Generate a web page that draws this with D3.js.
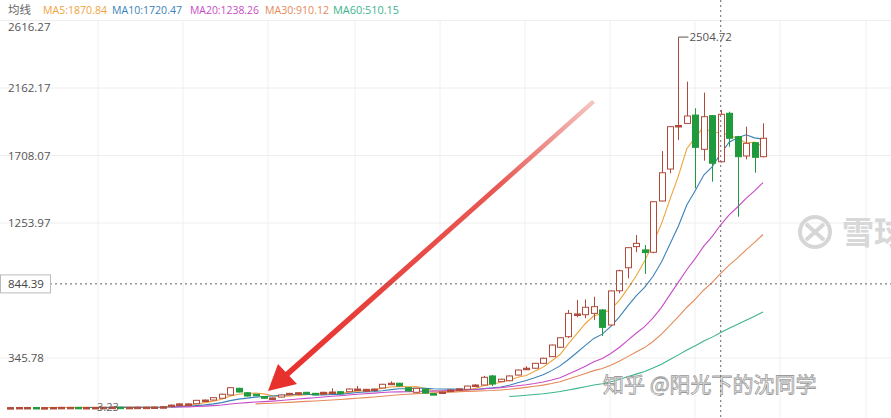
<!DOCTYPE html>
<html><head><meta charset="utf-8">
<script src="https://cdn.jsdelivr.net/npm/d3@7"></script>
<style>body{margin:0;background:#fff}svg{display:block;font-family:"Open Sans","Noto Sans",sans-serif}</style>
</head><body><svg id="c" width="891" height="418"></svg>
<script>
const opens = [12,12,13,13,12,12,13,14,14,13,13,13,14,15,14,14,15,15,16,22,
 29,30,38,62,63,75,97,142,112,102,86,68,83,99,102,115,108,102,117,119,
 119,137,122,137,144,176,176,146,115,137,106,117,128,135,135,164,164,225,187,193,
 231,277,277,310,355,418,489,642,637,646,669,568,798,953,1095,1073,1057,1402,1617,1905,
 1924,1980,1750,1976,1666,1992,1835,1705,1794,1700];
const closes = [12,13,13,12,12,13,14,14,13,13,13,14,15,14,14,15,15,16,18,29,
 37,37,61,63,79,102,146,117,90,95,75,77,97,108,112,104,99,115,117,108,
 137,137,135,137,169,176,158,124,142,110,100,117,131,138,157,164,216,171,203,225,
 265,277,310,344,433,482,646,642,687,691,552,797,933,1088,1117,1055,1397,1592,1902,1910,
 1974,1763,1969,1656,1985,1824,1700,1790,1696,1824];
const highs = [15,15,16,15,15,16,17,17,16,16,16,17,18,17,17,18,18,19,20,32,
 40,40,64,66,82,106,150,146,115,100,89,80,100,111,115,118,111,118,142,121,
 140,158,138,140,172,189,179,149,145,140,108,120,134,141,160,170,226,232,206,228,
 268,290,313,347,436,485,669,736,740,758,675,800,940,1090,1173,1106,1400,1738,1905,2504.72,
 2205,2026,2131,1980,2014,2003,1840,1902,1798,1925];
const lows = [9,9,10,9,9,10,11,11,10,10,10,11,12,11,11,12,12,13,14,20,
 26,27,35,59,60,72,94,114,87,92,72,65,80,96,99,101,96,99,113,105,
 116,133,119,133,141,172,155,121,112,107,97,113,125,132,132,160,161,157,184,190,
 228,270,274,307,352,415,480,620,613,601,494,560,781,882,1057,911,1050,1400,1588,1812,
 1920,1487,1673,1532,1660,1767,1296,1682,1592,1695];
const yTicks = [2616.27, 2162.17, 1708.07, 1253.97, 345.78, -108.32];
const maPeriods = [5, 10, 20, 30, 60];
const maColors = ["#eea43c", "#3c82b8", "#c84bc8", "#e58a5a", "#3bb58a"];
const legendTexts = ["MA5:1870.84", "MA10:1720.47", "MA20:1238.26", "MA30:910.12", "MA60:510.15"];
const crossValue = 844.39, crossIndex = 84, highIndex = 79, lowLabel = "3.23";

const svg = d3.select("#c");
const x = d3.scaleLinear().domain([0, opens.length - 1]).range([10.3, 763]);
const y = d3.scaleLinear().domain([-108.32, 2616.27]).range([425.5, 20.5]);

const vgrid = [98,183,268,355,440,525,610,695,780,866];
svg.append("g").selectAll("line").data(vgrid).join("line")
  .attr("x1", d=>d).attr("x2", d=>d).attr("y1", 20).attr("y2", 418)
  .attr("stroke", "#f0f0f0");
svg.append("g").selectAll("line").data(yTicks).join("line")
  .attr("x1", 0).attr("x2", 891).attr("y1", d=>y(d)).attr("y2", d=>y(d))
  .attr("stroke", "#eeeeee");
svg.append("g").selectAll("text").data(yTicks).join("text")
  .attr("x", 8).attr("y", d=>Math.max(31, y(d)+4)).attr("font-size", 11.5).attr("fill", "#555")
  .text(d=>d.toFixed(2));

maPeriods.forEach((p, k) => {
  const pts = [];
  for (let i = p - 1; i < closes.length; i++) {
    pts.push([i, d3.mean(closes.slice(i - p + 1, i + 1))]);
  }
  svg.append("path").attr("d", d3.line().x(d=>x(d[0])).y(d=>y(d[1]))(pts))
    .attr("fill", "none").attr("stroke", maColors[k]).attr("stroke-width", 1.1);
});

const up = "#b04a3a", dn = "#1f9a3c";
const idx = d3.range(opens.length);
const g = svg.append("g");
idx.forEach(i => {
  const o = opens[i], c = closes[i];
  const col = c >= o ? up : dn;
  const cx = Math.round(x(i)) + 0.5;
  const top = y(Math.max(o, c)), bot = y(Math.min(o, c));
  g.append("line").attr("x1", cx).attr("x2", cx).attr("y1", y(highs[i])).attr("y2", y(lows[i]))
    .attr("stroke", col).attr("stroke-width", 1);
  const h = Math.max(1.5, bot - top);
  g.append("rect").attr("x", cx - 3).attr("y", top).attr("width", 6).attr("height", h)
    .attr("fill", (c >= o && h > 2) ? "#fff" : col).attr("stroke", col).attr("stroke-width", 1);
});

const hx = x(highIndex), hy = y(highs[highIndex]);
svg.append("path").attr("d", `M${hx},${hy}H${hx+10}`).attr("stroke", "#555").attr("fill","none");
svg.append("text").attr("x", hx + 11).attr("y", hy + 4).attr("font-size", 11.5).attr("fill", "#555").text(highs[highIndex].toFixed(2));
svg.append("text").attr("x", 97).attr("y", 411).attr("font-size", 11).attr("fill", "#666").text(lowLabel);

const defs = svg.append("defs");
const gr = defs.append("linearGradient").attr("id","ag").attr("gradientUnits","userSpaceOnUse")
  .attr("x1",592).attr("y1",100).attr("x2",280).attr("y2",382);
gr.append("stop").attr("offset","0").attr("stop-color","#f4c4c0");
gr.append("stop").attr("offset","0.3").attr("stop-color","#e85a55");
gr.append("stop").attr("offset","1").attr("stop-color","#e8302c");
svg.append("path").attr("d","M592,100 L595,103 L286,379 L281,376 Z").attr("fill","url(#ag)");
svg.append("path").attr("d","M268,391 L278,364 L297,384 Z").attr("fill","#e8302c");

svg.append("circle").attr("cx",815).attr("cy",232).attr("r",15).attr("fill","none").attr("stroke","#d6d6d6").attr("stroke-width",4);
svg.append("path").attr("d","M806,224 L824,240 M824,224 L806,240").attr("stroke","#d6d6d6").attr("stroke-width",4);
svg.append("text").attr("x",842).attr("y",244).attr("font-size",32).attr("font-weight","bold").attr("fill","#d8d8d8")
  .attr("font-family","Noto Sans CJK SC").text("雪球");
svg.append("text").attr("x",603).attr("y",392).attr("font-size",21).attr("fill","#fff")
  .attr("stroke","#9a9a9a").attr("stroke-width",0.8).attr("font-family","Noto Sans CJK SC").text("知乎 @阳光下的沈同学");

const cyy = y(crossValue), cxx = x(crossIndex);
svg.append("line").attr("x1",0).attr("x2",891).attr("y1",cyy).attr("y2",cyy).attr("stroke","#666").attr("stroke-dasharray","2,3");
svg.append("line").attr("x1",cxx).attr("x2",cxx).attr("y1",0).attr("y2",418).attr("stroke","#666").attr("stroke-dasharray","2,3");
svg.append("rect").attr("x",0.5).attr("y",cyy-9).attr("width",50).attr("height",18).attr("fill","#fff").attr("stroke","#bbb");
svg.append("text").attr("x",8).attr("y",cyy+4).attr("font-size",11.5).attr("fill","#444").text(crossValue.toFixed(2));

svg.append("text").attr("x",8).attr("y",14).attr("font-size",11.5).attr("fill","#666")
  .attr("font-family","Noto Sans CJK SC").text("均线");
const lxs = [43, 112, 190, 265, 333];
const lws = [64, 70, 69, 64, 66];
legendTexts.forEach((t,k)=>{
  svg.append("text").attr("x",lxs[k]).attr("y",14).attr("font-size",11.5).attr("fill",maColors[k])
    .attr("textLength",lws[k]).attr("lengthAdjust","spacingAndGlyphs").text(t);
});
</script></body></html>
